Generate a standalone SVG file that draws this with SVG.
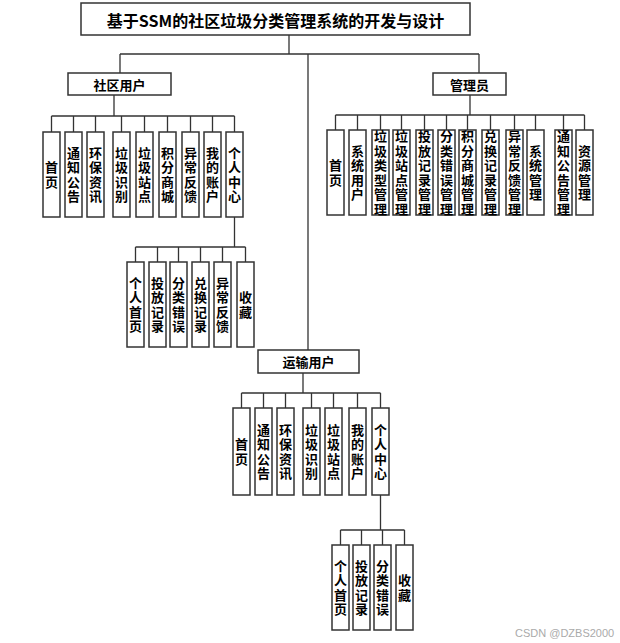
<svg xmlns="http://www.w3.org/2000/svg" width="620" height="643" viewBox="0 0 620 643">
<style>
.bx{fill:#fff;stroke:#333;stroke-width:1.5}
.ln{fill:none;stroke:#333;stroke-width:1.3}
.t{font-family:"Noto Sans CJK SC","Noto Sans",sans-serif;font-weight:bold;fill:#000;text-anchor:middle}
.h{font-size:13px;dominant-baseline:central}
.title{font-size:16px;dominant-baseline:central}
.v{font-size:13px;writing-mode:vertical-rl;letter-spacing:1.5px}
.wm{font-family:"Liberation Sans",sans-serif;font-size:11px;fill:#aaa}
</style>
<rect width="620" height="643" fill="#fff"/>
<g id="connectors">
<path class="ln" d="M289,35V54M120,54H479M120,54V73M479,54V73M308,54V350"/>
<path class="ln" d="M114,95V116M51.5,116H234.5M51.5,116V132M73.5,116V132M95.5,116V132M121.5,116V132M144.5,116V132M167.5,116V132M190.5,116V132M212.5,116V132M234.5,116V132"/>
<path class="ln" d="M470,95V115M335.5,115H584.5M335.5,115V130M357.5,115V130M380.5,115V130M401.5,115V130M424.5,115V130M446.5,115V130M467.5,115V130M490.5,115V130M514.5,115V130M535.5,115V130M563.5,115V130M584.5,115V130"/>
<path class="ln" d="M234.5,217V247M135.5,247H245.5M135.5,247V262M157.5,247V262M178.5,247V262M200.5,247V262M222.5,247V262M245.5,247V262"/>
<path class="ln" d="M303,373V393M241.5,393H380.5M241.5,393V408M263.5,393V408M285.5,393V408M311.5,393V408M333.5,393V408M357.5,393V408M380.5,393V408"/>
<path class="ln" d="M380.5,495V530M340.5,530H404.5M340.5,530V545M361.5,530V545M382.5,530V545M404.5,530V545"/>
</g>
<g id="title"><rect class="bx" x="81" y="3" width="389" height="32"/><text class="t title" x="275.5" y="19.5">基于SSM的社区垃圾分类管理系统的开发与设计</text></g>
<g id="community"><rect class="bx" x="68" y="73" width="103" height="22"/><text class="t h" x="119.5" y="84">社区用户</text></g>
<g id="admin"><rect class="bx" x="433" y="73" width="73" height="22"/><text class="t h" x="469.5" y="84">管理员</text></g>
<g id="transport"><rect class="bx" x="258" y="350" width="101" height="23"/><text class="t h" x="308.5" y="361.5">运输用户</text></g>

<g id="c1"><rect class="bx" x="43" y="132" width="17" height="85"/><text class="t v" x="51.5" y="175.25">首页</text></g>
<g id="c2"><rect class="bx" x="65" y="132" width="17" height="85"/><text class="t v" x="73.5" y="175.25">通知公告</text></g>
<g id="c3"><rect class="bx" x="87" y="132" width="17" height="85"/><text class="t v" x="95.5" y="175.25">环保资讯</text></g>
<g id="c4"><rect class="bx" x="113" y="132" width="17" height="85"/><text class="t v" x="121.5" y="175.25">垃圾识别</text></g>
<g id="c5"><rect class="bx" x="136" y="132" width="17" height="85"/><text class="t v" x="144.5" y="175.25">垃圾站点</text></g>
<g id="c6"><rect class="bx" x="159" y="132" width="17" height="85"/><text class="t v" x="167.5" y="175.25">积分商城</text></g>
<g id="c7"><rect class="bx" x="182" y="132" width="17" height="85"/><text class="t v" x="190.5" y="175.25">异常反馈</text></g>
<g id="c8"><rect class="bx" x="204" y="132" width="17" height="85"/><text class="t v" x="212.5" y="175.25">我的账户</text></g>
<g id="c9"><rect class="bx" x="226" y="132" width="17" height="85"/><text class="t v" x="234.5" y="175.25">个人中心</text></g>

<g id="cs1"><rect class="bx" x="127" y="262" width="17" height="85"/><text class="t v" x="135.5" y="305.25">个人首页</text></g>
<g id="cs2"><rect class="bx" x="149" y="262" width="17" height="85"/><text class="t v" x="157.5" y="305.25">投放记录</text></g>
<g id="cs3"><rect class="bx" x="170" y="262" width="17" height="85"/><text class="t v" x="178.5" y="305.25">分类错误</text></g>
<g id="cs4"><rect class="bx" x="192" y="262" width="17" height="85"/><text class="t v" x="200.5" y="305.25">兑换记录</text></g>
<g id="cs5"><rect class="bx" x="214" y="262" width="17" height="85"/><text class="t v" x="222.5" y="305.25">异常反馈</text></g>
<g id="cs6"><rect class="bx" x="237" y="262" width="17" height="85"/><text class="t v" x="245.5" y="305.25">收藏</text></g>

<g id="a1"><rect class="bx" x="327" y="130" width="17" height="85"/><text class="t v" x="335.5" y="173.25">首页</text></g>
<g id="a2"><rect class="bx" x="349" y="130" width="17" height="85"/><text class="t v" x="357.5" y="173.25">系统用户</text></g>
<g id="a3"><rect class="bx" x="372" y="130" width="17" height="85"/><text class="t v" x="380.5" y="173.25">垃圾类型管理</text></g>
<g id="a4"><rect class="bx" x="393" y="130" width="17" height="85"/><text class="t v" x="401.5" y="173.25">垃圾站点管理</text></g>
<g id="a5"><rect class="bx" x="416" y="130" width="17" height="85"/><text class="t v" x="424.5" y="173.25">投放记录管理</text></g>
<g id="a6"><rect class="bx" x="438" y="130" width="17" height="85"/><text class="t v" x="446.5" y="173.25">分类错误管理</text></g>
<g id="a7"><rect class="bx" x="459" y="130" width="17" height="85"/><text class="t v" x="467.5" y="173.25">积分商城管理</text></g>
<g id="a8"><rect class="bx" x="482" y="130" width="17" height="85"/><text class="t v" x="490.5" y="173.25">兑换记录管理</text></g>
<g id="a9"><rect class="bx" x="506" y="130" width="17" height="85"/><text class="t v" x="514.5" y="173.25">异常反馈管理</text></g>
<g id="a10"><rect class="bx" x="527" y="130" width="17" height="85"/><text class="t v" x="535.5" y="173.25">系统管理</text></g>
<g id="a11"><rect class="bx" x="555" y="130" width="17" height="85"/><text class="t v" x="563.5" y="173.25">通知公告管理</text></g>
<g id="a12"><rect class="bx" x="576" y="130" width="17" height="85"/><text class="t v" x="584.5" y="173.25">资源管理</text></g>

<g id="t1"><rect class="bx" x="233" y="408" width="17" height="87"/><text class="t v" x="241.5" y="452.25">首页</text></g>
<g id="t2"><rect class="bx" x="255" y="408" width="17" height="87"/><text class="t v" x="263.5" y="452.25">通知公告</text></g>
<g id="t3"><rect class="bx" x="277" y="408" width="17" height="87"/><text class="t v" x="285.5" y="452.25">环保资讯</text></g>
<g id="t4"><rect class="bx" x="303" y="408" width="17" height="87"/><text class="t v" x="311.5" y="452.25">垃圾识别</text></g>
<g id="t5"><rect class="bx" x="325" y="408" width="17" height="87"/><text class="t v" x="333.5" y="452.25">垃圾站点</text></g>
<g id="t6"><rect class="bx" x="349" y="408" width="17" height="87"/><text class="t v" x="357.5" y="452.25">我的账户</text></g>
<g id="t7"><rect class="bx" x="372" y="408" width="17" height="87"/><text class="t v" x="380.5" y="452.25">个人中心</text></g>

<g id="ts1"><rect class="bx" x="332" y="545" width="17" height="85"/><text class="t v" x="340.5" y="588.25">个人首页</text></g>
<g id="ts2"><rect class="bx" x="353" y="545" width="17" height="85"/><text class="t v" x="361.5" y="588.25">投放记录</text></g>
<g id="ts3"><rect class="bx" x="374" y="545" width="17" height="85"/><text class="t v" x="382.5" y="588.25">分类错误</text></g>
<g id="ts4"><rect class="bx" x="396" y="545" width="17" height="85"/><text class="t v" x="404.5" y="588.25">收藏</text></g>

<text class="wm" x="515" y="637">CSDN @DZBS2000</text>
</svg>
